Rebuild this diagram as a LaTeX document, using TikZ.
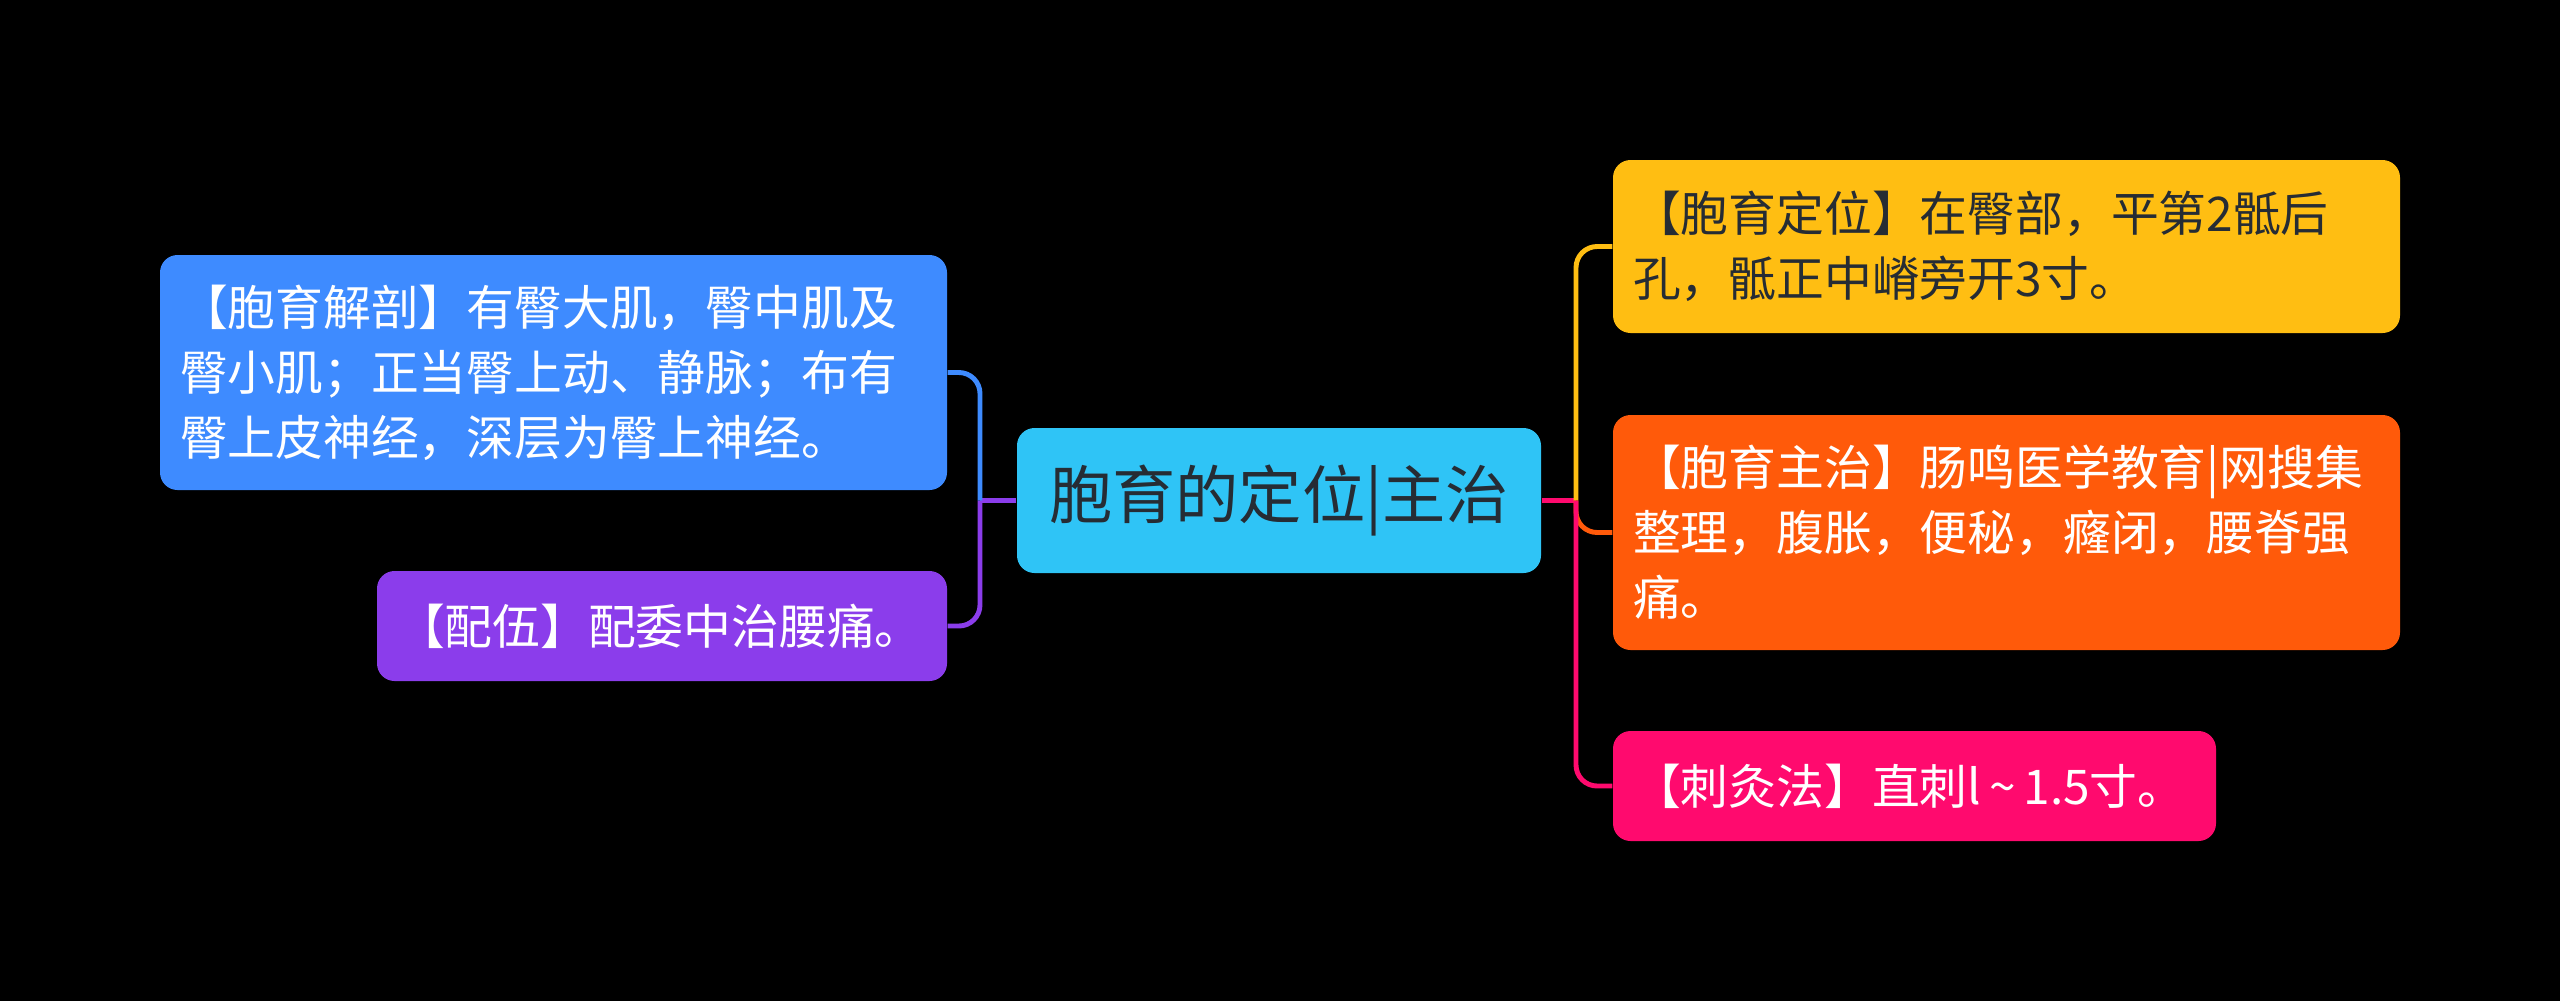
\documentclass[tikz,border=0pt]{standalone}
\usepackage{fontspec}
\setmainfont{Noto Sans CJK SC}
\usepackage{xcolor}
\usetikzlibrary{positioning}
\definecolor{rootcyan}{RGB}{47, 196, 246}
\definecolor{rootink}{RGB}{38, 44, 52}
\definecolor{anatblue}{RGB}{62, 139, 255}
\definecolor{pairpurple}{RGB}{139, 61, 235}
\definecolor{locgold}{RGB}{255, 190, 18}
\definecolor{cureorange}{RGB}{255, 90, 10}
\definecolor{needlepink}{RGB}{255, 10, 110}

\begin{document}
\begin{tikzpicture}[
  topic/.style={rectangle, rounded corners=5pt, align=left,
    inner xsep=0.2cm, text=white,
    font=\fontsize{13.6pt}{18.5pt}\selectfont},
  link/.style={line width=1.4pt, rounded corners=6pt}
]
  \path[fill=black, use as bounding box] (0,0) rectangle (25.6,-10.01);

  \node[fill=rootcyan, rounded corners=5pt, minimum width=5.24cm,
    minimum height=1.45cm, text=rootink,
    font=\fontsize{18pt}{20pt}\selectfont] (root) at (12.79,-5.005)
    {胞育的定位|主治};

  % left side
  \node[topic, fill=anatblue, text width=7.47cm, minimum height=2.35cm]
    (anat) at (5.535,-3.725)
    {【胞育解剖】有臀大肌，臀中肌及\\
     臀小肌；正当臀上动、静脉；布有\\
     臀上皮神经，深层为臀上神经。};
  \node[topic, fill=pairpurple, text width=5.30cm, minimum height=1.10cm]
    (pair) at (6.62,-6.26)
    {【配伍】配委中治腰痛。};

  % right side
  \node[topic, fill=locgold, text=rootink, text width=7.47cm,
    minimum height=1.73cm] (loc) at (20.065,-2.465)
    {【胞育定位】在臀部，平第2骶后\\
     孔，骶正中嵴旁开3寸。};
  \node[topic, fill=cureorange, text width=7.47cm, minimum height=2.35cm]
    (cure) at (20.065,-5.325)
    {【胞育主治】肠鸣医学教育|网搜集\\
     整理，腹胀，便秘，癃闭，腰脊强\\
     痛。};
  \node[topic, fill=needlepink, text width=5.63cm, minimum height=1.10cm]
    (needle) at (19.145,-7.86)
    {【刺灸法】直刺l\,\textasciitilde\,1.5寸。};

  \coordinate (lsplit) at (9.80,-5.005);
  \coordinate (rsplit) at (15.76,-5.005);

  \draw[link, pairpurple] (root.west) -- (lsplit);
  \draw[link, anatblue] (lsplit) |- (anat.east);
  \draw[link, pairpurple] (lsplit) |- (pair.east);

  \draw[link, needlepink] (root.east) -- (rsplit);
  \draw[link, locgold] (rsplit) |- (loc.west);
  \draw[link, cureorange] (rsplit) |- (cure.west);
  \draw[link, needlepink] (rsplit) |- (needle.west);
\end{tikzpicture}
\end{document}
